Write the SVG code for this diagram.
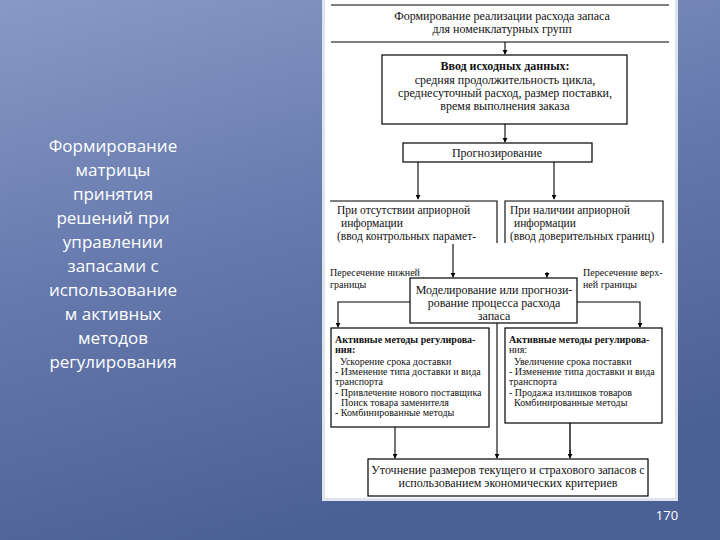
<svg xmlns="http://www.w3.org/2000/svg" width="720" height="540" viewBox="0 0 720 540">
<defs>
<linearGradient id="bg" x1="0" y1="0" x2="0.35" y2="1">
<stop offset="0" stop-color="#8799c6"/>
<stop offset="0.5" stop-color="#6679ad"/>
<stop offset="1" stop-color="#4b6095"/>
</linearGradient>
<marker id="ah" viewBox="0 0 6 6" refX="5" refY="3" markerWidth="5" markerHeight="5" orient="auto" markerUnits="userSpaceOnUse">
<path d="M0,0 L6,3 L0,6 Z" fill="#000"/>
</marker>
<style>
.t{font-family:"Liberation Serif","Times New Roman",serif;fill:#111;}
.s12{font-size:12px;}
.s115{font-size:11.5px;}
.s10{font-size:10px;}
.b{font-weight:bold;}
.c{text-anchor:middle;}
.box{fill:#fff;stroke:#000;stroke-width:1.2;}
.ln{fill:none;stroke:#000;stroke-width:1.1;}
.side{font-family:"Open Sans","Liberation Sans",sans-serif;font-size:17px;fill:#fff;text-anchor:middle;}
</style>
</defs>
<rect width="720" height="540" fill="url(#bg)"/>
<rect x="322" y="0" width="356" height="501" fill="#dfe3ec"/>
<rect x="325" y="0" width="350" height="498" fill="#fff"/>

<g id="side-title">
<text class="side" x="113" y="152">Формирование</text>
<text class="side" x="113" y="176">матрицы</text>
<text class="side" x="113" y="200">принятия</text>
<text class="side" x="113" y="224">решений при</text>
<text class="side" x="113" y="248">управлении</text>
<text class="side" x="113" y="272">запасами с</text>
<text class="side" x="113" y="296">использование</text>
<text class="side" x="113" y="320">м активных</text>
<text class="side" x="113" y="344">методов</text>
<text class="side" x="113" y="368">регулирования</text>
</g>

<g id="connectors">
<path class="ln" d="M505,42 V54" marker-end="url(#ah)"/>
<path class="ln" d="M505,124 V142" marker-end="url(#ah)"/>
<path class="ln" d="M418,162 V199" marker-end="url(#ah)"/>
<path class="ln" d="M554,162 V199" marker-end="url(#ah)"/>
<path class="ln" d="M453,244 V277" marker-end="url(#ah)"/>
<path class="ln" d="M547,272 V277" marker-end="url(#ah)"/>
<path class="ln" d="M410,302 H338 V327" marker-end="url(#ah)"/>
<path class="ln" d="M577,302 H640 V327" marker-end="url(#ah)"/>
<path class="ln" d="M497,323 V458" marker-end="url(#ah)"/>
<path class="ln" d="M395,427 V458" marker-end="url(#ah)"/>
<path fill="none" stroke="#555" stroke-width="2" d="M570,423 V455"/>
<path class="ln" d="M570,450 V458" marker-end="url(#ah)"/>
</g>

<g id="title">
<line class="ln" x1="331" y1="5" x2="669" y2="5"/>
<line class="ln" x1="331" y1="42" x2="669" y2="42"/>
<text class="t s12 c" x="502" y="20">Формирование реализации расхода запаса</text>
<text class="t s12 c" x="502" y="33">для номенклатурных групп</text>
</g>

<g id="input">
<rect class="box" x="382" y="55" width="245" height="69"/>
<text class="t s12 c b" x="505" y="70">Ввод исходных данных:</text>
<text class="t s12 c" x="505" y="84">средняя продолжительность цикла,</text>
<text class="t s12 c" x="505" y="97">среднесуточный расход, размер поставки,</text>
<text class="t s12 c" x="505" y="110">время выполнения заказа</text>
</g>

<g id="forecast">
<rect class="box" x="403" y="143" width="189" height="19"/>
<text class="t s12 c" x="497" y="157">Прогнозирование</text>
</g>

<g id="no-info">
<path class="ln" d="M330,201 H497 V243"/>
<text class="t s115" x="337" y="214">При отсутствии априорной</text>
<text class="t s115" x="341" y="227">информации</text>
<text class="t s115" x="337" y="240">(ввод контрольных парамет-</text>
</g>

<g id="has-info">
<path class="ln" d="M505,243 V201 H663 V243"/>
<text class="t s115" x="510" y="214">При наличии априорной</text>
<text class="t s115" x="514" y="227">информации</text>
<text class="t s115" x="510" y="240">(ввод доверительных границ)</text>
</g>

<g id="label-low">
<text class="t s10" x="330" y="276">Пересечение нижней</text>
<text class="t s10" x="330" y="288">границы</text>
</g>
<g id="label-high">
<text class="t s10" x="583" y="276">Пересечение верх-</text>
<text class="t s10" x="583" y="288">ней границы</text>
</g>

<g id="model">
<rect class="box" x="410" y="278" width="167" height="45"/>
<text class="t s12 c" x="494" y="294">Моделирование или прогнози-</text>
<text class="t s12 c" x="494" y="307">рование процесса расхода</text>
<text class="t s12 c" x="494" y="320">запаса</text>
</g>

<g id="active-left">
<rect class="box" x="331" y="328" width="158" height="99"/>
<text class="t s10 b" x="335" y="343">Активные  методы  регулирова-</text>
<text class="t s10 b" x="335" y="353">ния:</text>
<text class="t s10" x="340" y="365">Ускорение срока доставки</text>
<text class="t s10" x="335" y="375">- Изменение типа доставки и вида</text>
<text class="t s10" x="335" y="385">транспорта</text>
<text class="t s10" x="335" y="396">- Привлечение нового поставщика</text>
<text class="t s10" x="341" y="406">Поиск товара заменителя</text>
<text class="t s10" x="335" y="416">- Комбинированные методы</text>
</g>

<g id="active-right">
<rect class="box" x="505" y="328" width="157" height="95"/>
<text class="t s10 b" x="509" y="343">Активные методы регулирова-</text>
<text class="t s10" x="509" y="353">ния:</text>
<text class="t s10" x="514" y="365">Увеличение срока поставки</text>
<text class="t s10" x="509" y="375">- Изменение типа доставки и вида</text>
<text class="t s10" x="509" y="385">транспорта</text>
<text class="t s10" x="509" y="396">- Продажа излишков товаров</text>
<text class="t s10" x="514" y="406">Комбинированные методы</text>
</g>

<g id="refine">
<rect class="box" x="368" y="459" width="280" height="37"/>
<text class="t s12 c" x="508" y="474">Уточнение размеров текущего и страхового запасов с</text>
<text class="t s12 c" x="508" y="487">использованием экономических критериев</text>
</g>

<text x="667" y="520" font-family="'Open Sans','Liberation Sans',sans-serif" font-size="13" fill="#fff" text-anchor="middle">170</text>
</svg>
